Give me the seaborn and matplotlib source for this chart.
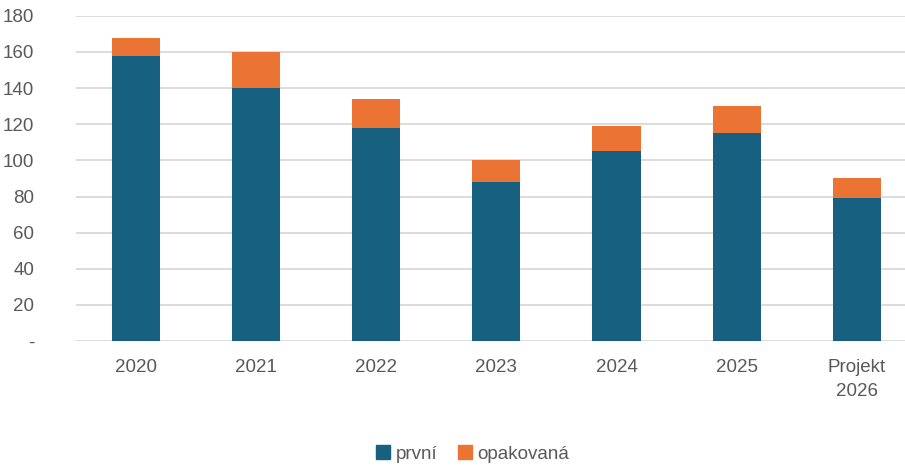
import matplotlib
matplotlib.use('Agg')
import matplotlib.pyplot as plt
import seaborn as sns
import pandas as pd
from matplotlib.patches import Patch

# Data
years = ['2020', '2021', '2022', '2023', '2024', '2025', 'Projekt\n2026']
prvni = [158, 140, 118, 88, 105, 115, 79]
opakovana = [10, 20, 16, 12, 14, 15, 11]

blue = '#17607F'
orange = '#EB7333'
grey = '#595959'

df = pd.DataFrame({'rok': years, 'prvni': prvni, 'opakovana': opakovana})
df['celkem'] = df['prvni'] + df['opakovana']

sns.set_style('white')
plt.rcParams['font.family'] = ['Liberation Sans', 'DejaVu Sans']

fig = plt.figure(figsize=(9.05, 4.66), dpi=100)
ax = fig.add_axes([0.084, 0.268, 0.929, 0.698])

# Stacked bars: total in orange, first part in blue on top of it
sns.barplot(data=df, x='rok', y='celkem', color=orange, width=0.40,
            saturation=1, linewidth=0, ax=ax, zorder=3)
sns.barplot(data=df, x='rok', y='prvni', color=blue, width=0.40,
            saturation=1, linewidth=0, ax=ax, zorder=4)

ax.set_ylim(0, 180)
ax.set_yticks(range(0, 181, 20))
ax.set_yticklabels(['-'] + [str(v) for v in range(20, 181, 20)])
ax.set_xlim(-0.5, len(years) - 0.5)
ax.yaxis.grid(True, color='#D9D9D9', linewidth=1.3, zorder=0)
ax.set_axisbelow(True)
for s in ax.spines.values():
    s.set_visible(False)
ax.tick_params(axis='both', length=0, labelsize=13.5, labelcolor=grey)
ax.tick_params(axis='x', pad=13)
ax.tick_params(axis='y', pad=30)
for lab in ax.get_yticklabels():
    lab.set_horizontalalignment('right')
for lab in ax.get_xticklabels():
    lab.set_linespacing(1.55)
ax.set_xlabel('')
ax.set_ylabel('')

handles = [Patch(color=blue, label='první'), Patch(color=orange, label='opakovaná')]
fig.legend(handles=handles, loc='center', bbox_to_anchor=(0.522, 0.026), ncol=2,
           frameon=False, fontsize=13.5, labelcolor=grey, handlelength=0.75,
           handleheight=0.75, handletextpad=0.3, columnspacing=1.1)

fig.savefig('out.png', dpi=100)
